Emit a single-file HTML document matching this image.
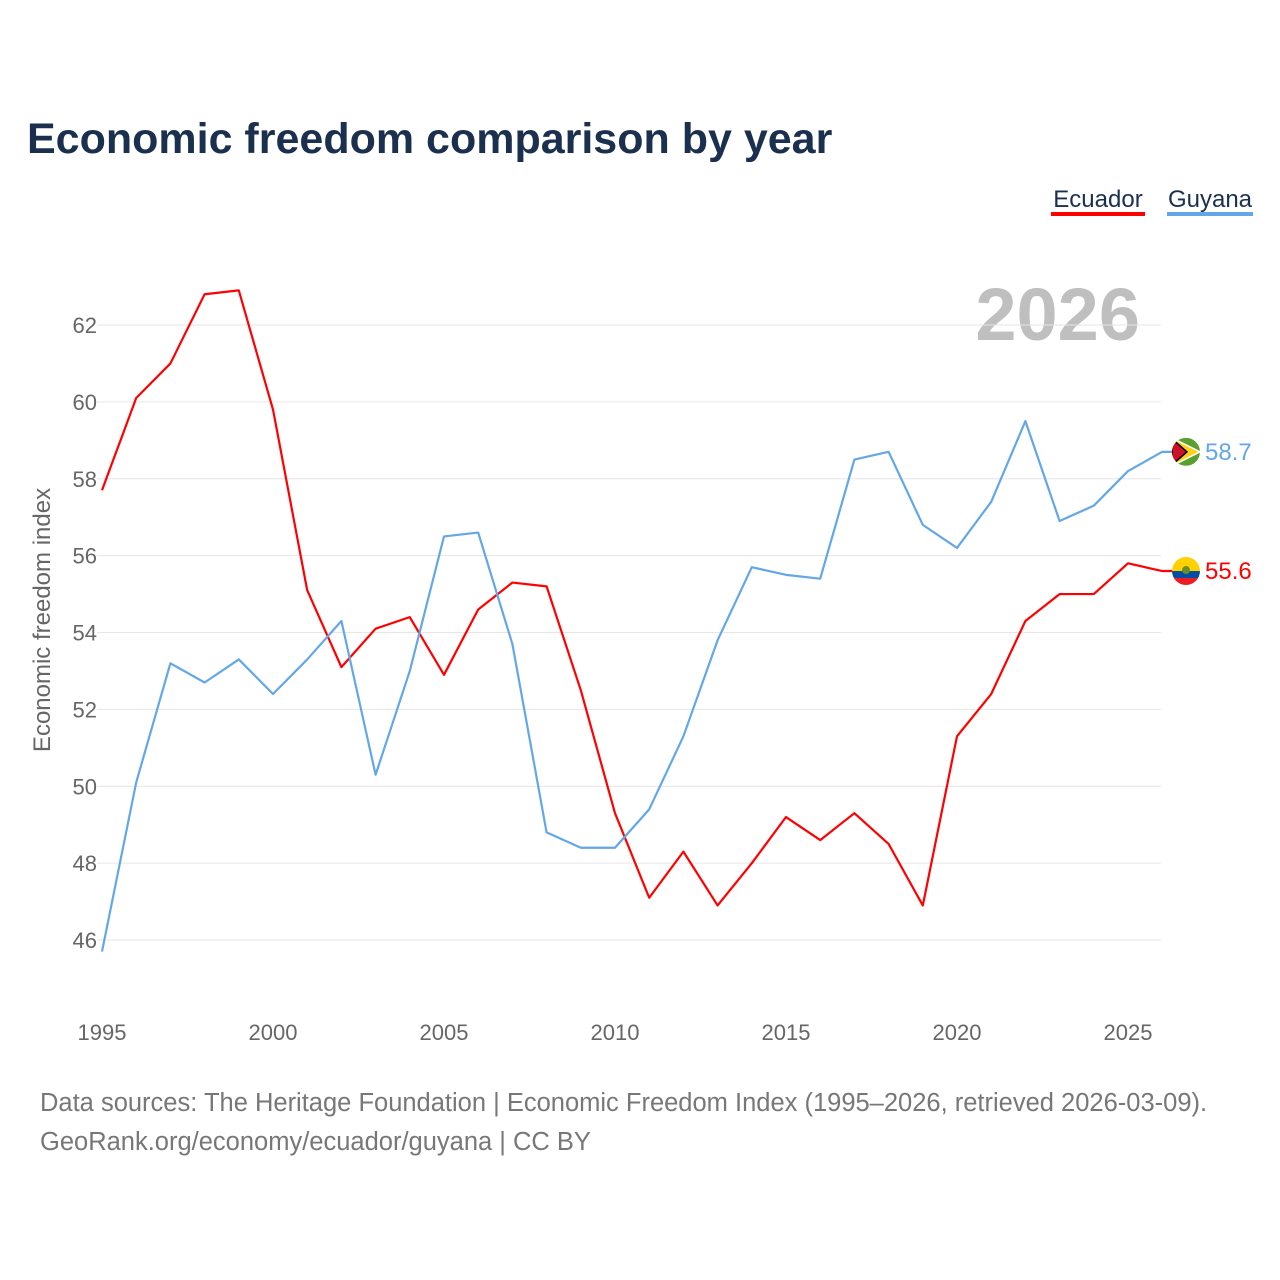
<!DOCTYPE html>
<html><head><meta charset="utf-8"><style>
html,body{margin:0;padding:0;background:#fff}
body{width:1280px;height:1280px;position:relative;font-family:"Liberation Sans",sans-serif;overflow:hidden}
svg{position:absolute;left:0;top:0}
</style></head><body>
<svg width="1280" height="1280" id="chart">
<text x="27" y="153" font-size="43" font-weight="bold" fill="#1b2f4f">Economic freedom comparison by year</text>
<g><text x="1098" y="207" font-size="24" fill="#1b2f4f" text-anchor="middle">Ecuador</text><rect x="1051" y="212" width="94" height="4" fill="#ff0000"/></g>
<g><text x="1210" y="207" font-size="24" fill="#1b2f4f" text-anchor="middle">Guyana</text><rect x="1167" y="212" width="86" height="4" fill="#63a7e8"/></g>
<text x="1140" y="340" font-size="74" font-weight="bold" fill="#bfbfbf" text-anchor="end">2026</text>
<text transform="translate(50,620) rotate(-90)" font-size="24" fill="#666" text-anchor="middle">Economic freedom index</text>
<g id="grid"></g><g id="xt"></g><g id="lines"></g>
<text x="40" y="1111" font-size="25.5" fill="#777">Data sources: The Heritage Foundation | Economic Freedom Index (1995–2026, retrieved 2026-03-09).</text>
<text x="40" y="1150" font-size="25.5" fill="#777">GeoRank.org/economy/ecuador/guyana | CC BY</text>
</svg>
<script>
const years=[];for(let y=1995;y<=2026;y++)years.push(y);
const ecuador=[57.7,60.1,61.0,62.8,62.9,59.8,55.1,53.1,54.1,54.4,52.9,54.6,55.3,55.2,52.5,49.3,47.1,48.3,46.9,48.0,49.2,48.6,49.3,48.5,46.9,51.3,52.4,54.3,55.0,55.0,55.8,55.6];
const guyana=[45.7,50.1,53.2,52.7,53.3,52.4,53.3,54.3,50.3,53.0,56.5,56.6,53.7,48.8,48.4,48.4,49.4,51.3,53.8,55.7,55.5,55.4,58.5,58.7,56.8,56.2,57.4,59.5,56.9,57.3,58.2,58.7];
const yTicks=[46,48,50,52,54,56,58,60,62];
const xTicks=[1995,2000,2005,2010,2015,2020,2025];
const NS="http://www.w3.org/2000/svg";
const X=v=>102+(v-1995)*34.2;
const Y=v=>325+(62-v)*38.44;
function mk(t,a,p){const e=document.createElementNS(NS,t);for(const k in a)e.setAttribute(k,a[k]);p.appendChild(e);return e;}
const g=document.getElementById('grid');
yTicks.forEach(t=>{
 const l=mk('line',{x1:97,x2:1161,y1:Y(t),y2:Y(t),stroke:'#e6e6e6','stroke-width':1},g);
 
 
 const tx=mk('text',{x:97,y:Y(t)+8,'font-size':22,fill:'#666','text-anchor':'end'},g);
 
 
 tx.textContent=t;
});
const xt=document.getElementById('xt');
xTicks.forEach(t=>{
 const tx=mk('text',{x:X(t),y:1040,'font-size':22,fill:'#666','text-anchor':'middle'},xt);
 
 
 tx.textContent=t;
});
const L=document.getElementById('lines');
function series(vals,color,name){
 const p=mk('polyline',{points:vals.map((v,i)=>X(years[i])+','+Y(v)).join(' ')+' '+(X(2026)+10)+','+Y(vals[vals.length-1]),fill:'none',stroke:color,'stroke-width':2.2,'stroke-linejoin':'round'},L);
 
 
 const last=vals[vals.length-1];
 const tx=mk('text',{x:1205,y:Y(last)+8,'font-size':24,fill:color},L);
 
 
 tx.textContent=last.toFixed(1);
 return Y(last);
}
const ey=series(ecuador,'#ff0000','ecuador');
const gy=series(guyana,'#63a7e8','guyana');
const fe=mk('g',{},L);


const cp=mk('clipPath',{id:'ce'},fe);
mk('circle',{cx:1186,cy:ey,r:14},cp);
const ge=mk('g',{'clip-path':'url(#ce)'},fe);
mk('rect',{x:1172,y:ey-14,width:28,height:14,fill:'#ffd100'},ge);
mk('rect',{x:1172,y:ey,width:28,height:7,fill:'#034ea2'},ge);
mk('rect',{x:1172,y:ey+7,width:28,height:7,fill:'#ed1c24'},ge);
mk('circle',{cx:1186,cy:ey-1,r:4,fill:'#6b8e23'},fe);
const fg=mk('g',{},L);


const cg=mk('clipPath',{id:'cg'},fg);
mk('circle',{cx:1186,cy:gy,r:14},cg);
const gg=mk('g',{'clip-path':'url(#cg)'},fg);
mk('rect',{x:1172,y:gy-14,width:28,height:28,fill:'#5aa02c'},gg);
mk('polygon',{points:`1172,${gy-14} 1200,${gy} 1172,${gy+14}`,fill:'#fcd116',stroke:'#fff','stroke-width':1.5},gg);
mk('polygon',{points:`1172,${gy-13} 1187,${gy} 1172,${gy+13}`,fill:'#ce1126',stroke:'#000','stroke-width':1.5},gg);
</script>
</body></html>
